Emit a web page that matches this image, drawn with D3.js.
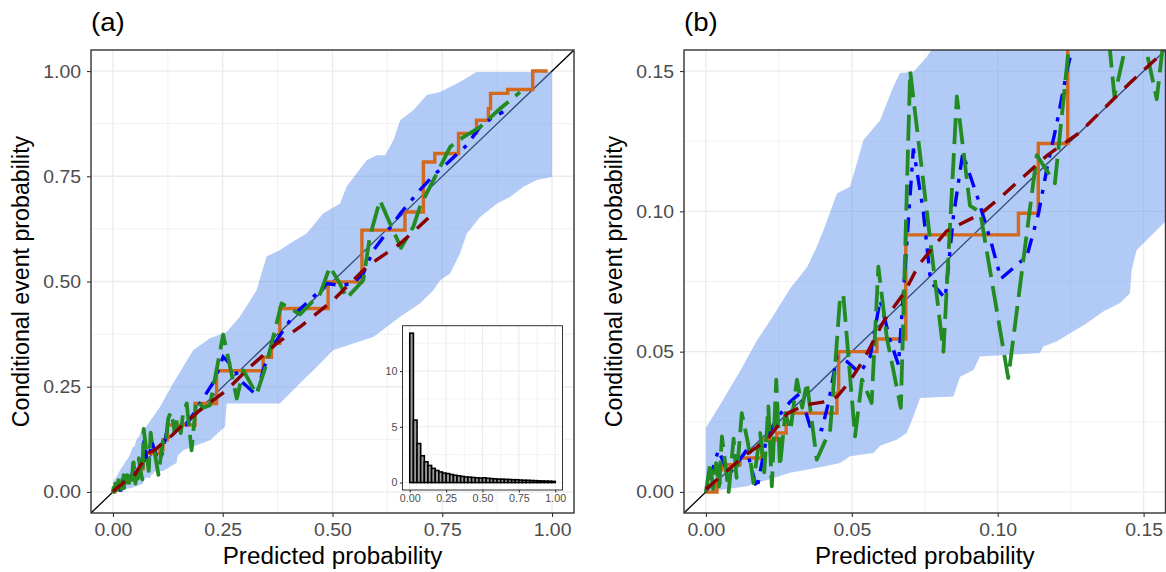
<!DOCTYPE html>
<html>
<head>
<meta charset="utf-8">
<script src="https://cdn.jsdelivr.net/npm/d3@7"></script>
<style>
  body { margin: 0; background: #ffffff; }
  text { font-family: "Liberation Sans", Arial, Helvetica, sans-serif; }
</style>
</head>
<body>
<svg id="chart" width="1166" height="572"></svg>
<script>
// ---- Consistency band (upper and lower edges) ----
const bandUpperX = [0.000, 0.006, 0.0117, 0.0175, 0.0232, 0.0289, 0.0346, 0.038, 0.0403, 0.0449, 0.0494, 0.054, 0.0597, 0.0642, 0.0665, 0.0711, 0.0757, 0.0768,
  0.107, 0.137, 0.183, 0.221, 0.259, 0.289, 0.327, 0.350, 0.380, 0.403, 0.441, 0.479, 0.517, 0.532, 0.555, 0.578, 0.601, 0.620, 0.639, 0.654, 0.684, 0.715, 0.745, 0.790, 0.828, 1.000];
const bandUpperY = [0.0228, 0.033, 0.043, 0.054, 0.063, 0.0726, 0.080, 0.0874, 0.0933, 0.1064, 0.1088, 0.1254, 0.1325, 0.1443, 0.1493, 0.1497, 0.155, 0.1568,
  0.202, 0.258, 0.337, 0.365, 0.380, 0.416, 0.479, 0.560, 0.574, 0.590, 0.614, 0.662, 0.685, 0.725, 0.757, 0.788, 0.800, 0.800, 0.836, 0.883, 0.907, 0.943, 0.950, 0.974, 0.998, 0.998];
const bandLowerX = [0.000, 0.014, 0.0175, 0.0289, 0.0403, 0.046, 0.0494, 0.0574, 0.0597, 0.0654, 0.0688, 0.0711, 0.0734, 0.0848, 0.0871, 0.0917, 0.0939, 0.1145, 0.1156, 0.1202, 0.1248, 0.1305, 0.1362, 0.1419, 0.1453, 0.1459, 0.1476,
  0.160, 0.221, 0.255, 0.259, 0.380, 0.426, 0.464, 0.502, 0.593, 0.654, 0.699, 0.730, 0.745, 0.768, 0.790, 0.806, 0.836, 0.874, 0.904, 0.935, 0.965, 1.000];
const bandLowerY = [0.000, 0.002, 0.0032, 0.0068, 0.0091, 0.0103, 0.0127, 0.0139, 0.0165, 0.0186, 0.021, 0.0269, 0.0335, 0.034, 0.0411, 0.0435, 0.0483, 0.0495, 0.0518, 0.0536, 0.0566, 0.0601, 0.0643, 0.0673, 0.0708, 0.0791, 0.0862,
  0.099, 0.123, 0.155, 0.210, 0.210, 0.258, 0.297, 0.337, 0.368, 0.416, 0.448, 0.479, 0.503, 0.519, 0.566, 0.614, 0.653, 0.685, 0.701, 0.725, 0.741, 0.748];

// ---- Isotonic (PAV) step estimate ----
const pavX = [0.000, 0.0038, 0.0049, 0.0055, 0.0117, 0.0192, 0.0243, 0.0275, 0.0449, 0.0455, 0.0586, 0.0685, 0.1071, 0.1139, 0.1240,
  0.187, 0.236, 0.342, 0.361, 0.380, 0.490, 0.567, 0.665, 0.707, 0.733, 0.787, 0.828, 0.855, 0.860, 0.899, 0.956, 0.990];
const pavY = [0.000, 0.0032, 0.0079, 0.0097, 0.0121, 0.0186, 0.021, 0.0281, 0.0352, 0.050, 0.0545, 0.0916, 0.0993, 0.1242, 0.159,
  0.210, 0.288, 0.320, 0.353, 0.436, 0.499, 0.622, 0.665, 0.784, 0.804, 0.852, 0.883, 0.911, 0.947, 0.956, 1.000, 1.000];

// ---- Kernel smoothed estimate (dot-dash) ----
const kernelX = [0.000, 0.0043, 0.0078, 0.014, 0.0175, 0.0209, 0.0249, 0.0289, 0.0323, 0.0357, 0.0397, 0.042, 0.0449, 0.0483, 0.0528, 0.0563, 0.0597, 0.0631, 0.066, 0.0688, 0.0711,
  0.0745, 0.0770, 0.082, 0.0848, 0.088, 0.0934, 0.098, 0.1011, 0.110, 0.114, 0.117, 0.120, 0.124, 0.1259, 0.135, 0.150, 0.168,
  0.198, 0.232, 0.251, 0.274, 0.289, 0.327, 0.342, 0.358, 0.411, 0.456, 0.487, 0.517, 0.547, 0.570, 0.593, 0.616, 0.654, 0.699, 0.730, 0.760, 0.806, 0.836, 0.866, 0.889];
const kernelY = [0.000, 0.015, 0.006, 0.015, 0.001, 0.0198, 0.027, 0.0322, 0.0352, 0.0234, 0.0222, 0.0317, 0.0483, 0.0465, 0.0423, 0.0483, 0.0684, 0.0542, 0.0453, 0.088, 0.1224,
  0.100, 0.075, 0.069, 0.098, 0.1206, 0.104, 0.088, 0.076, 0.084, 0.0993, 0.116, 0.130, 0.1515, 0.1591, 0.165, 0.163, 0.160,
  0.210, 0.266, 0.321, 0.297, 0.266, 0.230, 0.289, 0.337, 0.420, 0.463, 0.495, 0.491, 0.495, 0.519, 0.574, 0.606, 0.661, 0.717, 0.752, 0.780, 0.824, 0.867, 0.891, 0.903];

// ---- Binned estimate (long-dash) ----
const binnedX = [0.000, 0.0015, 0.0025, 0.0035, 0.0045, 0.0055, 0.0078, 0.0095, 0.0105, 0.0123, 0.0145, 0.0163, 0.0186, 0.0200, 0.0214, 0.0226, 0.0241, 0.0254, 0.0272, 0.0290,
  0.0312, 0.0330, 0.0346, 0.0380, 0.0426, 0.0445, 0.0460, 0.0471, 0.0511, 0.0535, 0.0568, 0.0591, 0.0620, 0.0668, 0.0700, 0.0814, 0.0860, 0.0905, 0.0940, 0.1036,
  0.1134, 0.1196, 0.1260, 0.1320, 0.1385, 0.1400, 0.1428, 0.1470, 0.1510, 0.1545, 0.1600, 0.1680, 0.1790, 0.1900, 0.2060, 0.2210, 0.2510, 0.2820, 0.2970, 0.3270,
  0.3500, 0.3840, 0.4260, 0.4720, 0.4940, 0.5170, 0.5320, 0.5700, 0.5850, 0.6080, 0.6310, 0.6560, 0.6840, 0.6990, 0.7220, 0.7450, 0.7680, 0.7980, 0.8360, 0.8820, 0.9270];
const binnedY = [0.000, 0.0103, 0.001, 0.0103, 0.002, 0.0198, 0.000, 0.019, 0.005, 0.0281, 0.017, 0.0032, 0.021, 0.007, 0.0305, 0.002, 0.040, 0.0091, 0.0281, 0.022,
  0.040, 0.030, 0.039, 0.0115, 0.0222, 0.048, 0.0696, 0.0702, 0.0198, 0.040, 0.0317, 0.0803, 0.055, 0.030, 0.150, 0.050, 0.141, 0.102, 0.0997, 0.0406,
  0.120, 0.110, 0.175, 0.190, 0.157, 0.141, 0.154, 0.175, 0.157, 0.140, 0.190, 0.210, 0.099, 0.218, 0.200, 0.206, 0.374, 0.222, 0.289, 0.232,
  0.305, 0.448, 0.422, 0.471, 0.535, 0.495, 0.460, 0.503, 0.606, 0.693, 0.638, 0.580, 0.630, 0.677, 0.725, 0.772, 0.820, 0.843, 0.867, 0.911, 0.950];

// ---- Logistic recalibration fit (dashed) ----
const logitX = [0.000, 0.013, 0.021, 0.028, 0.034, 0.040, 0.045, 0.049, 0.054, 0.061, 0.068, 0.073, 0.0825, 0.094, 0.101, 0.117, 0.128, 0.145, 0.157,
  0.198, 0.259, 0.312, 0.373, 0.426, 0.502, 0.578, 0.654, 0.684, 0.718];
const logitY = [0.001, 0.0127, 0.0186, 0.028, 0.031, 0.032, 0.034, 0.039, 0.047, 0.061, 0.071, 0.081, 0.093, 0.099, 0.105, 0.120, 0.128, 0.1455, 0.157,
  0.194, 0.242, 0.297, 0.353, 0.392, 0.456, 0.535, 0.590, 0.618, 0.651];

// ---- Histogram of predicted probabilities (density, 40 bins on [0, 1]) ----
const histDensity = [13.4, 5.6, 3.5, 2.4, 1.86, 1.53, 1.27, 1.08, 0.95, 0.85, 0.80, 0.72, 0.65, 0.60, 0.55, 0.50, 0.48, 0.45, 0.42, 0.40,
  0.42, 0.38, 0.35, 0.33, 0.30, 0.30, 0.28, 0.27, 0.25, 0.25, 0.22, 0.20, 0.20, 0.18, 0.17, 0.15, 0.14, 0.13, 0.12, 0.10];
const histBinWidth = 0.025;

// ---- Tick labels ----
const ticksA = [0, 0.25, 0.5, 0.75, 1];
const minorA = [0.125, 0.375, 0.625, 0.875];
const ticksB = [0, 0.05, 0.10, 0.15];
const minorB = [0.025, 0.075, 0.125];
const histTicksX = [0, 0.25, 0.5, 0.75, 1];
const histMinorX = [0.125, 0.375, 0.625, 0.875];
const histTicksY = [0, 5, 10];
const histMinorY = [2.5, 7.5, 12.5];

const xTitle = "Predicted probability";
const yTitle = "Conditional event probability";

// ---------------------------------------------------------------
const svg = d3.select("#chart");
const SX = 1.045;          // horizontal stretch applied to all text
const GRID = "#ebebeb", INK = "#333333", LABEL = "#4d4d4d";

function zip(xs, ys) { return xs.map((v, i) => [v, ys[i]]); }

function stretchText(sel) {
  sel.each(function () {
    const t = d3.select(this);
    const x = +t.attr("x") || 0;
    t.attr("x", x / SX).attr("transform", `scale(${SX},1)`);
  });
}

function styleAxis(g, fontSize) {
  g.select(".domain").remove();
  g.selectAll(".tick line").attr("stroke", INK).attr("stroke-width", 1.1);
  g.selectAll(".tick text").attr("fill", LABEL).attr("font-size", fontSize).attr("font-family", null);
  stretchText(g.selectAll(".tick text"));
}

let clipCount = 0;

function drawPanel(o) {
  const g = svg.append("g");
  const x = d3.scaleLinear().domain(o.dom).range([o.left, o.right]);
  const y = d3.scaleLinear().domain(o.dom).range([o.bottom, o.top]);

  g.append("rect").attr("x", o.left).attr("y", o.top)
    .attr("width", o.right - o.left).attr("height", o.bottom - o.top).attr("fill", "#fff");

  const grid = g.append("g");
  o.minor.forEach(v => {
    grid.append("line").attr("x1", x(v)).attr("x2", x(v)).attr("y1", o.top).attr("y2", o.bottom)
      .attr("stroke", GRID).attr("stroke-width", 0.7);
    grid.append("line").attr("y1", y(v)).attr("y2", y(v)).attr("x1", o.left).attr("x2", o.right)
      .attr("stroke", GRID).attr("stroke-width", 0.7);
  });
  o.major.forEach(v => {
    grid.append("line").attr("x1", x(v)).attr("x2", x(v)).attr("y1", o.top).attr("y2", o.bottom)
      .attr("stroke", GRID).attr("stroke-width", 1.3);
    grid.append("line").attr("y1", y(v)).attr("y2", y(v)).attr("x1", o.left).attr("x2", o.right)
      .attr("stroke", GRID).attr("stroke-width", 1.3);
  });

  const id = "clip" + (clipCount++);
  svg.append("defs").append("clipPath").attr("id", id).append("rect")
    .attr("x", o.left).attr("y", o.top).attr("width", o.right - o.left).attr("height", o.bottom - o.top);
  const plot = g.append("g").attr("clip-path", `url(#${id})`);

  // identity line
  plot.append("line")
    .attr("x1", x(o.dom[0])).attr("y1", y(o.dom[0]))
    .attr("x2", x(o.dom[1])).attr("y2", y(o.dom[1]))
    .attr("stroke", "#000").attr("stroke-width", 1.3);

  // band
  const bandPts = zip(bandUpperX, bandUpperY).concat(zip(bandLowerX, bandLowerY).reverse());
  const poly = d3.line().x(d => x(d[0])).y(d => y(d[1]));
  plot.append("path").attr("d", poly(bandPts) + "Z")
    .attr("fill", "cornflowerblue").attr("fill-opacity", 0.5);

  const lw = 3.4;
  plot.append("path")
    .attr("d", d3.line().curve(d3.curveStepAfter).x(d => x(d[0])).y(d => y(d[1]))(zip(pavX, pavY)))
    .attr("fill", "none").attr("stroke", "#d2691e").attr("stroke-width", lw);

  plot.append("path")
    .attr("d", poly(zip(kernelX, kernelY)))
    .attr("fill", "none").attr("stroke", "#0000ff").attr("stroke-width", lw)
    .attr("stroke-dasharray", "4,9,15,9");

  plot.append("path")
    .attr("d", poly(zip(binnedX, binnedY)))
    .attr("fill", "none").attr("stroke", "#228b22").attr("stroke-width", 3.8)
    .attr("stroke-linejoin", "round")
    .attr("stroke-dasharray", "26,9");

  plot.append("path")
    .attr("d", poly(zip(logitX, logitY)))
    .attr("fill", "none").attr("stroke", "#8b0000").attr("stroke-width", lw)
    .attr("stroke-dasharray", "16,11");

  // axes
  const fmt = d3.format(".2f");
  const ax = g.append("g").attr("transform", `translate(0,${o.bottom})`)
    .call(d3.axisBottom(x).tickValues(o.major).tickFormat(fmt).tickSize(4).tickPadding(6));
  styleAxis(ax, 18.6);
  const ay = g.append("g").attr("transform", `translate(${o.left},0)`)
    .call(d3.axisLeft(y).tickValues(o.major).tickFormat(fmt).tickSize(4).tickPadding(6));
  styleAxis(ay, 18.6);

  // border
  g.append("rect").attr("x", o.left).attr("y", o.top)
    .attr("width", o.right - o.left).attr("height", o.bottom - o.top)
    .attr("fill", "none").attr("stroke", INK).attr("stroke-width", 1.4);

  // titles
  const cx = (o.left + o.right) / 2, cy = (o.top + o.bottom) / 2;
  g.append("text").attr("transform", `translate(${cx},564) scale(${SX},1)`)
    .attr("text-anchor", "middle").attr("font-size", 23.2).attr("fill", "#000").text(xTitle);
  g.append("text").attr("transform", `translate(${o.left - 62},${cy}) scale(${SX},1) rotate(-90)`)
    .attr("text-anchor", "middle").attr("font-size", 23.2).attr("fill", "#000").text(yTitle);
  g.append("text").attr("transform", `translate(${o.left},30.5) scale(${SX},1)`)
    .attr("font-size", 26.5).attr("fill", "#000").text(o.tag);

  return { x, y, g };
}

drawPanel({ dom: [-0.05, 1.05], left: 91, right: 574, top: 50, bottom: 513, major: ticksA, minor: minorA, tag: "(a)" });
drawPanel({ dom: [-0.0075, 0.1575], left: 684, right: 1165.5, top: 50, bottom: 513, major: ticksB, minor: minorB, tag: "(b)" });

// ---- inset histogram ----
(function () {
  const L = 402.5, R = 562.5, T = 325.7, B = 490;
  const g = svg.append("g");
  const x = d3.scaleLinear().domain([-0.05, 1.05]).range([L, R]);
  const y = d3.scaleLinear().domain([-0.67, 14.07]).range([B, T]);
  g.append("rect").attr("x", L).attr("y", T).attr("width", R - L).attr("height", B - T).attr("fill", "#fff");
  histMinorX.forEach(v => g.append("line").attr("x1", x(v)).attr("x2", x(v)).attr("y1", T).attr("y2", B).attr("stroke", GRID).attr("stroke-width", 0.6));
  histMinorY.forEach(v => g.append("line").attr("y1", y(v)).attr("y2", y(v)).attr("x1", L).attr("x2", R).attr("stroke", GRID).attr("stroke-width", 0.6));
  histTicksX.forEach(v => g.append("line").attr("x1", x(v)).attr("x2", x(v)).attr("y1", T).attr("y2", B).attr("stroke", GRID).attr("stroke-width", 1.1));
  histTicksY.forEach(v => g.append("line").attr("y1", y(v)).attr("y2", y(v)).attr("x1", L).attr("x2", R).attr("stroke", GRID).attr("stroke-width", 1.1));

  g.selectAll("rect.bar").data(histDensity).join("rect").attr("class", "bar")
    .attr("x", (d, i) => x(i * histBinWidth))
    .attr("width", (d, i) => x((i + 1) * histBinWidth) - x(i * histBinWidth))
    .attr("y", d => y(d)).attr("height", d => y(0) - y(d))
    .attr("fill", "#9a9a9a").attr("stroke", "#000").attr("stroke-width", 1.6);

  const ax = g.append("g").attr("transform", `translate(0,${B})`)
    .call(d3.axisBottom(x).tickValues(histTicksX).tickFormat(d3.format(".2f")).tickSize(2.5).tickPadding(2.5));
  styleAxis(ax, 10.3);
  const ay = g.append("g").attr("transform", `translate(${L},0)`)
    .call(d3.axisLeft(y).tickValues(histTicksY).tickFormat(d3.format("d")).tickSize(2.5).tickPadding(2.5));
  styleAxis(ay, 10.3);
  g.append("rect").attr("x", L).attr("y", T).attr("width", R - L).attr("height", B - T)
    .attr("fill", "none").attr("stroke", INK).attr("stroke-width", 1);
})();
</script>
</body>
</html>
